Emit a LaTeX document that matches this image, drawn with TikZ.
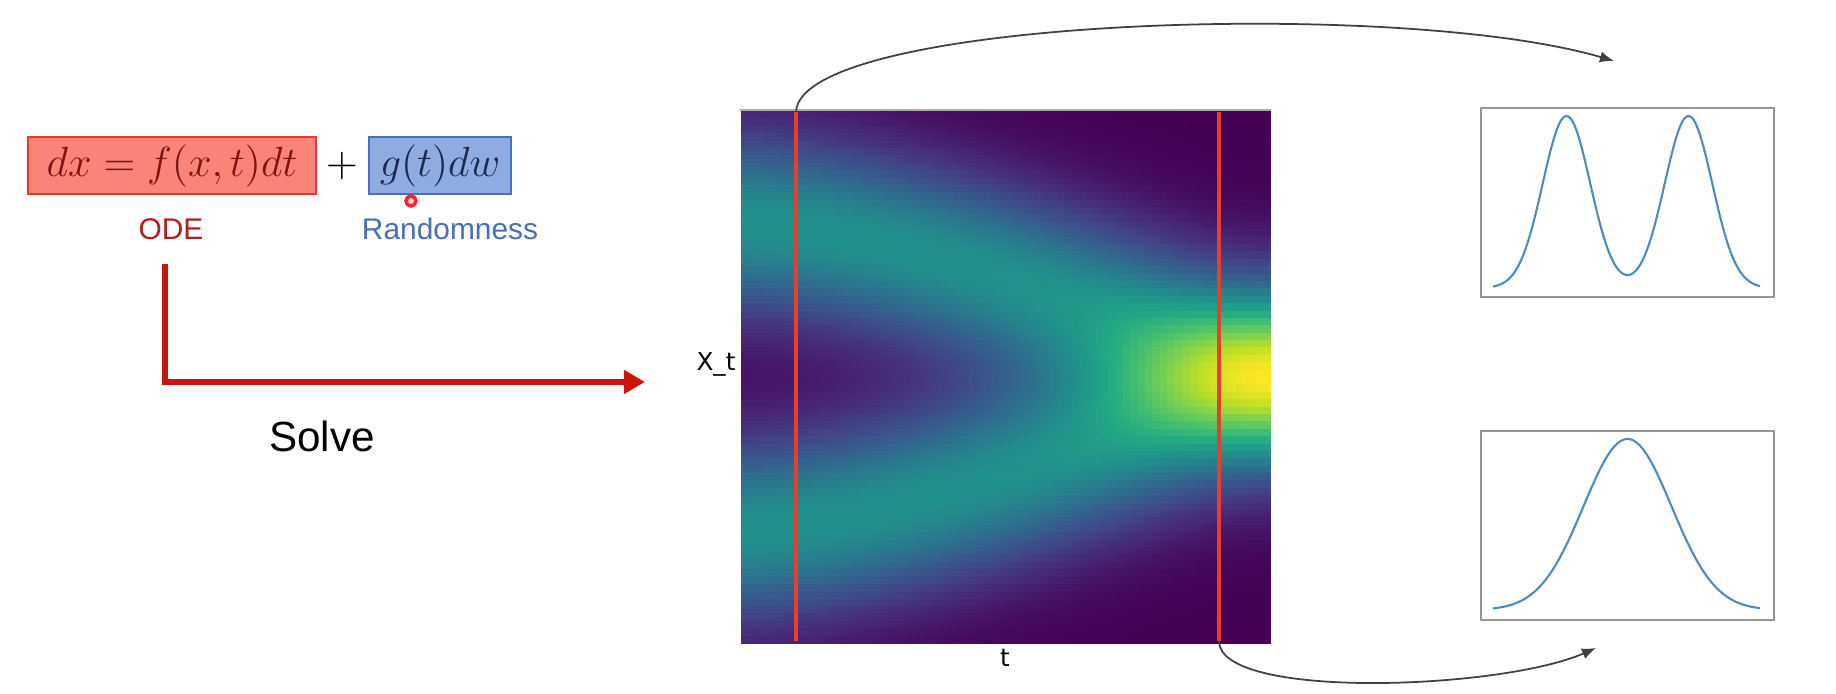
\documentclass[tikz,border=0pt]{standalone}
\usepackage[no-math]{fontspec}
\setmainfont{Liberation Sans}
\newfontfamily\plotfont{DejaVu Sans}
\usetikzlibrary{arrows.meta}

\definecolor{odered}{RGB}{250,132,120}
\definecolor{odeedge}{RGB}{228,58,46}
\definecolor{odetext}{RGB}{125,20,18}
\definecolor{odelabel}{RGB}{178,30,28}
\definecolor{noiseblue}{RGB}{142,172,226}
\definecolor{noiseedge}{RGB}{70,112,190}
\definecolor{noisetext}{RGB}{28,40,78}
\definecolor{noiselabel}{RGB}{72,112,182}
\definecolor{solvered}{RGB}{200,22,10}
\definecolor{slicered}{RGB}{232,62,42}
\definecolor{curveblue}{RGB}{78,138,188}
\definecolor{framegray}{RGB}{150,150,150}

% viridis stops
\definecolor{vir0}{RGB}{68,1,84}
\definecolor{vir1}{RGB}{72,36,117}
\definecolor{vir2}{RGB}{65,68,135}
\definecolor{vir3}{RGB}{53,95,141}
\definecolor{vir4}{RGB}{42,120,142}
\definecolor{vir5}{RGB}{33,145,140}
\definecolor{vir6}{RGB}{34,168,132}
\definecolor{vir7}{RGB}{68,191,112}
\definecolor{vir8}{RGB}{122,209,81}
\definecolor{vir9}{RGB}{189,223,38}
\definecolor{vir10}{RGB}{253,231,37}

\tikzset{
  eqbox/.style={minimum height=0.57cm,inner sep=0pt,line width=0.8pt,font=\fontsize{12}{14}\selectfont},
  tag/.style={font=\fontsize{8.5}{10}\selectfont},
  solvearrow/.style={draw=solvered,line width=1.7pt,-{Triangle[length=6pt,width=6.5pt]}},
  slice/.style={draw=slicered,line width=1.4pt},
  flow/.style={draw=black!75,line width=0.5pt,-{Latex[length=4pt,width=3.2pt]}},
  plotbox/.style={draw=framegray,line width=0.5pt,minimum width=2.93cm,minimum height=1.89cm,inner sep=0pt},
  density/.style={draw=curveblue,line width=0.6pt}
}

\begin{document}
\begin{tikzpicture}[x=0.01cm,y=-0.01cm]
\useasboundingbox (0,0) rectangle (1836,694);
\fill[white] (0,0) rectangle (1836,694);

% the SDE
\node[eqbox,fill=odered,draw=odeedge,text=odetext,minimum width=2.88cm] (ode) at (172,165.5) {$dx = f(x,t)dt$};
\node[font=\fontsize{12}{14}\selectfont] (plus) at (342,166) {$+$};
\node[eqbox,fill=noiseblue,draw=noiseedge,text=noisetext,minimum width=1.42cm] (noise) at (440,165.5) {$g(t)dw$};
\node[circle,draw=red!85,fill=red!20,line width=1pt,minimum size=0.1cm,inner sep=0pt] (pointer) at (411,201) {};
\node[tag,text=odelabel] (odetag) at (171,229) {ODE};
\node[tag,text=noiselabel] (noisetag) at (450,229) {Randomness};

% solve arrow
\coordinate (solve start) at (165,264);
\coordinate (solve end) at (645,382);
\draw[solvearrow] (solve start) |- (solve end);
\node[font=\fontsize{12}{14}\selectfont] (solve) at (322,436) {Solve};

% density of x_t over t
\foreach \i in {0,...,71}{
  \pgfmathsetmacro{\mval}{0.575*(1-((\i+0.5)/72)^1.5)}
  \foreach \j in {0,...,71}{
    \pgfmathsetmacro{\pval}{min(0.999,0.5*exp(-(1-(2*\j+1)/72-\mval)^2/0.1152)+0.5*exp(-(1-(2*\j+1)/72+\mval)^2/0.1152))}
    \pgfmathtruncatemacro{\idx}{10*\pval}
    \pgfmathtruncatemacro{\idxn}{\idx+1}
    \pgfmathsetmacro{\pct}{1000*\pval-100*\idx}
    \fill[vir\idxn!\pct!vir\idx] ({741+\i*7.347},{111+\j*7.389}) rectangle ++(7.9,7.9);
  }
}
\node[minimum width=5.29cm,minimum height=5.32cm,inner sep=0pt] (heat) at (1005.5,377) {};
\draw[framegray!80,line width=0.4pt] (heat.north west) -- (heat.north east);
\node[font=\plotfont\fontsize{7}{8}\selectfont] (xlabel) at (716,364) {X\_t};
\node[font=\plotfont\fontsize{7}{8}\selectfont] (tlabel) at (1005,658) {t};

% time slices
\coordinate (early top) at (796,112);
\coordinate (early bottom) at (796,641);
\coordinate (late top) at (1219,112);
\coordinate (late bottom) at (1219,641);
\draw[slice] (early top) -- (early bottom);
\draw[slice] (late top) -- (late bottom);

% marginals
\node[plotbox] (bimodal) at (1627.5,202.5) {};
\node[plotbox] (unimodal) at (1627.5,525.5) {};
\draw[density] plot[domain=-1.345:1.325,samples=121,smooth,variable=\pos]
  ({1627.5+100*\pos},{288-172*(exp(-(\pos-0.61)*(\pos-0.61)/0.1133)+exp(-(\pos+0.61)*(\pos+0.61)/0.1133))});
\draw[density] plot[domain=-1.345:1.325,samples=121,smooth,variable=\pos]
  ({1627.5+100*\pos},{610-171*exp(-(\pos)*(\pos)/0.3872)});

\coordinate (bimodal in) at (1614,61);
\coordinate (unimodal in) at (1596,648);
\draw[flow] (early top) .. controls (800,18) and (1400,-2) .. (bimodal in);
\draw[flow] (late bottom) .. controls (1219,700) and (1500,690) .. (unimodal in);
\end{tikzpicture}
\end{document}
